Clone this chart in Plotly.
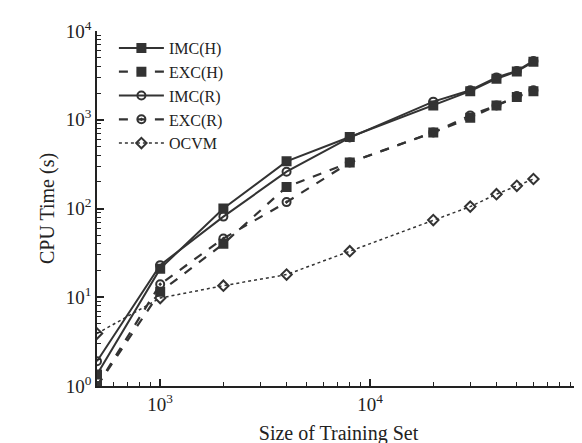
import plotly.graph_objects as go
import math

sizes = [500, 1000, 2000, 4000, 8000, 20000, 30000, 40000, 50000, 60000]
imc_h = [1.35, 21, 100, 340, 640, 1450, 2100, 2900, 3500, 4500]
exc_h = [1.0, 11.5, 40, 175, 330, 720, 1050, 1450, 1800, 2100]
imc_r = [1.9, 23, 81, 260, 630, 1600, 2150, 3000, 3550, 4600]
exc_r = [1.0, 14, 46, 118, 330, 720, 1120, 1450, 1850, 2150]
ocvm = [3.9, 9.8, 13.5, 18, 33, 74, 105, 145, 180, 215]

x_ticks = [1e3, 1e4, 1e5]
x_ticktext = ["10<sup>3</sup>", "10<sup>4</sup>", "10<sup>5</sup>"]
y_ticks = [1, 10, 100, 1000, 10000]
y_ticktext = ["10<sup>0</sup>", "10<sup>1</sup>", "10<sup>2</sup>", "10<sup>3</sup>", "10<sup>4</sup>"]
x_minor = [m * 10 ** e for e in (2, 3, 4) for m in range(2, 10) if 500 <= m * 10 ** e < 1e5]
y_minor = [m * 10 ** e for e in (0, 1, 2, 3) for m in range(2, 10)]

C = "#333333"
series = [
    ("IMC(H)", imc_h, "solid", "square", 2),
    ("EXC(H)", exc_h, "dash", "square", 2.2),
    ("IMC(R)", imc_r, "solid", "circle-open", 2),
    ("EXC(R)", exc_r, "dash", "circle-open-dot", 2.2),
    ("OCVM", ocvm, "dot", "diamond-open", 1.5),
]

fig = go.Figure()
for name, vals, dash, sym, w in series:
    fig.add_trace(go.Scatter(
        x=sizes, y=vals, name=name, mode="lines+markers",
        line=dict(color=C, width=w, dash=dash),
        marker=dict(symbol=sym, size=8, color=C, line=dict(color=C, width=2)),
    ))
# invisible carrier trace for the minor-tick axes
fig.add_trace(go.Scatter(x=sizes, y=ocvm, xaxis="x2", yaxis="y2", mode="markers",
                         marker=dict(opacity=0), showlegend=False, hoverinfo="skip"))

font = "Liberation Serif, Times New Roman, serif"
TC = "#222222"
tf = dict(family=font, size=19, color=TC)
xr = [math.log10(500), 5]
yr = [0, 4]
fig.update_layout(
    width=582, height=443,
    margin=dict(l=89, r=10, t=21, b=60),
    paper_bgcolor="white", plot_bgcolor="white",
    font=dict(family=font, size=16, color=TC),
    showlegend=True,
    legend=dict(x=0.035, y=1.0, xanchor="left", yanchor="top",
                bgcolor="rgba(0,0,0,0)", font=dict(family=font, size=16, color=TC),
                tracegroupgap=0, itemwidth=45),
    xaxis=dict(type="log", range=xr, showgrid=False, zeroline=False,
               showline=True, linecolor=TC, linewidth=1.5, mirror=False,
               ticks="inside", ticklen=7, tickcolor=TC, tickwidth=1.5,
               tickvals=x_ticks, ticktext=x_ticktext, tickfont=tf,
               title=dict(text="Size of Training Set", font=dict(family=font, size=20, color=TC), standoff=12)),
    yaxis=dict(type="log", range=yr, showgrid=False, zeroline=False,
               showline=True, linecolor=TC, linewidth=1.5, mirror=False,
               ticks="inside", ticklen=7, tickcolor=TC, tickwidth=1.5,
               tickvals=y_ticks, ticktext=y_ticktext, tickfont=tf,
               title=dict(text="CPU Time (s)", font=dict(family=font, size=20, color=TC), standoff=6)),
    xaxis2=dict(type="log", range=xr, overlaying="x", anchor="y2", side="bottom",
                showgrid=False, zeroline=False, showline=False,
                ticks="inside", ticklen=4, tickcolor=TC, tickwidth=1.2,
                tickvals=x_minor, ticktext=[""] * len(x_minor), showticklabels=True),
    yaxis2=dict(type="log", range=yr, overlaying="y", anchor="x2", side="left",
                showgrid=False, zeroline=False, showline=False,
                ticks="inside", ticklen=4, tickcolor=TC, tickwidth=1.2,
                tickvals=y_minor, showticklabels=False),
)

fig.write_html("out.html")
